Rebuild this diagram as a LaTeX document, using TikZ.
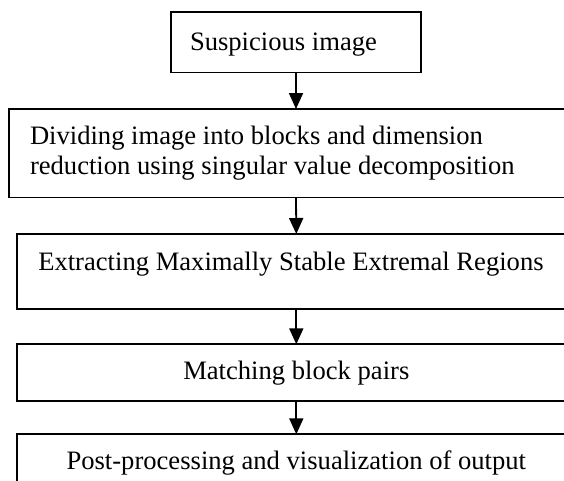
\documentclass[tikz,border=0pt]{standalone}
\usepackage{fontspec}
\setmainfont{Liberation Serif}
\usetikzlibrary{arrows.meta}
\begin{document}
\begin{tikzpicture}[x=1pt,y=-1pt,line width=1.8pt,line join=miter,>={Triangle[length=16pt,width=14pt]},
		box/.style={draw,rectangle,anchor=north west,inner ysep=0pt,outer sep=0pt,font=\fontsize{26.6}{30.6}\selectfont}]
			\useasboundingbox (0,0) rectangle (564,480);
			\clip (0,0) rectangle (564,480);
			\node[box,align=flush left,inner xsep=19pt,text width=212pt,text height=38pt,text depth=22.5pt] (img) at (171,12) {Suspicious image};
			\node[box,align=flush left,inner xsep=21pt,text width=532pt,text height=35pt,text depth=53.5pt] (svd) at (9,109) {Dividing image into blocks and dimension\\reduction using singular value decomposition};
			\node[box,align=flush left,inner xsep=21pt,text width=516pt,text height=36pt,text depth=39.3pt] (mser) at (17.3,234) {Extracting Maximally Stable Extremal Regions};
			\node[box,align=flush center,inner xsep=21pt,text width=516pt,text height=34.7pt,text depth=22pt] (match) at (17.3,344.3) {Matching block pairs};
			\node[box,align=flush center,inner xsep=21pt,text width=516pt,text height=35.2pt,text depth=40pt] (post) at (17.3,434.3) {Post-processing and visualization of output};
			\draw[->] (img.south) -- (svd.north);
			\draw[->] (svd.south) -- (mser.north);
			\draw[->] (mser.south) -- (match.north);
			\draw[->] (match.south) -- (post.north);
	\end{tikzpicture}
\end{document}
